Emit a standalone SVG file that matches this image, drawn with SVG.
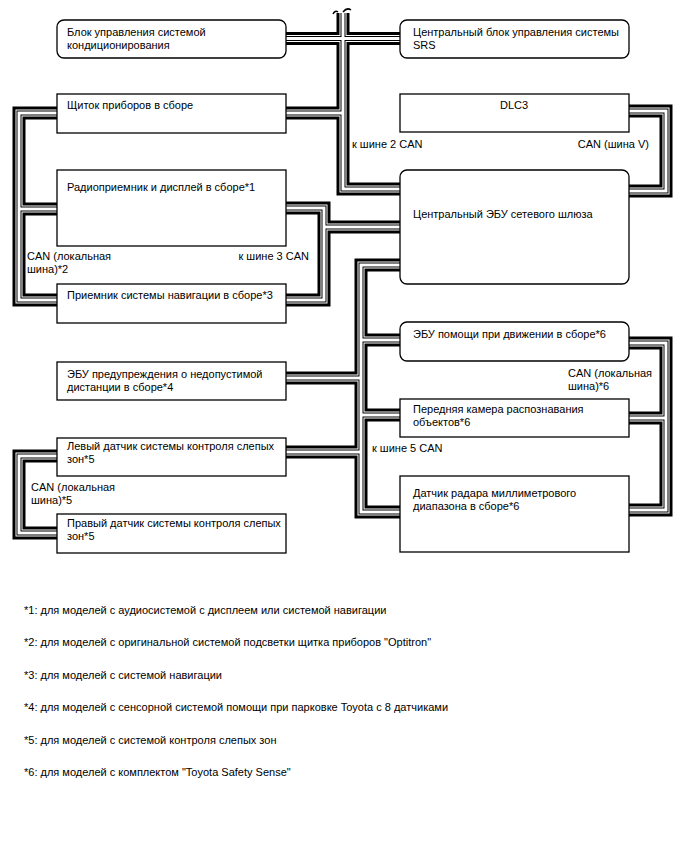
<svg xmlns="http://www.w3.org/2000/svg" width="688" height="852" viewBox="0 0 688 852">
<style>
.box{fill:#fff;stroke:#000;stroke-width:1.3}
text{font-family:"Liberation Sans",Arial,sans-serif;font-size:11px;fill:#000}
.fn{font-size:11px}
.w1{fill:none;stroke:#000;stroke-width:13}
.w2{fill:none;stroke:#fff;stroke-width:7}
.w3{fill:none;stroke:#000;stroke-width:5}
.w4{fill:none;stroke:#fff;stroke-width:3}
</style>
<defs>
<path id="buses" d="M343 13V189H400 M286 38.5H400 M286 113H343 M629 111H666V191H629 M57 113H19V300H57 M57 209H19 M286 208H324V300H286 M324 227H400 M400 265H361V512H400 M361 340H400 M286 378H361 M361 415H400 M286 452H361 M629 343H666V510H629 M629 418H666 M57 456H19V533H57"/>
</defs>
<rect width="688" height="852" fill="#fff"/>
<g id="connectors">
<use href="#buses" class="w1"/>
<use href="#buses" class="w2"/>
<use href="#buses" class="w3"/>
<use href="#buses" class="w4"/>
<path d="M333 14 Q335 10 338 12 M343 12 Q347 7 351 10" fill="none" stroke="#000" stroke-width="1.5"/>
</g>
<g id="n-ac"><rect class="box" x="57" y="20" width="229" height="38" rx="7"/><text x="67" y="36">Блок управления системой</text><text x="67" y="49">кондиционирования</text></g>
<g id="n-srs"><rect class="box" x="400" y="20" width="229" height="38" rx="7"/><text x="413" y="36">Центральный блок управления системы</text><text x="413" y="49">SRS</text></g>
<g id="n-meter"><rect class="box" x="57" y="94" width="229" height="39"/><text x="67" y="109">Щиток приборов в сборе</text></g>
<g id="n-dlc3"><rect class="box" x="400" y="94" width="229" height="38"/><text x="514" y="109" text-anchor="middle">DLC3</text></g>
<g id="n-radio"><rect class="box" x="57" y="170" width="229" height="76"/><text x="67" y="191">Радиоприемник и дисплей в сборе*1</text></g>
<g id="n-gateway"><rect class="box" x="400" y="170" width="229" height="114" rx="7"/><text x="413" y="218">Центральный ЭБУ сетевого шлюза</text></g>
<g id="n-nav"><rect class="box" x="57" y="284" width="229" height="39"/><text x="67" y="299">Приемник системы навигации в сборе*3</text></g>
<g id="n-drive"><rect class="box" x="400" y="322" width="229" height="39" rx="7"/><text x="413" y="338">ЭБУ помощи при движении в сборе*6</text></g>
<g id="n-dist"><rect class="box" x="57" y="362" width="229" height="38"/><text x="67" y="378">ЭБУ предупреждения о недопустимой</text><text x="67" y="391">дистанции в сборе*4</text></g>
<g id="n-camera"><rect class="box" x="400" y="399" width="229" height="38"/><text x="413" y="413">Передняя камера распознавания</text><text x="413" y="426">объектов*6</text></g>
<g id="n-bsl"><rect class="box" x="57" y="438" width="229" height="38"/><text x="67" y="450">Левый датчик системы контроля слепых</text><text x="67" y="463">зон*5</text></g>
<g id="n-radar"><rect class="box" x="400" y="476" width="229" height="76"/><text x="413" y="497">Датчик радара миллиметрового</text><text x="413" y="510">диапазона в сборе*6</text></g>
<g id="n-bsr"><rect class="box" x="57" y="514" width="229" height="39"/><text x="67" y="527">Правый датчик системы контроля слепых</text><text x="67" y="540">зон*5</text></g>
<g id="labels">
<text x="352" y="148">к шине 2 CAN</text>
<text x="649" y="148" text-anchor="end">CAN (шина V)</text>
<text x="27" y="260">CAN (локальная</text>
<text x="27" y="273">шина)*2</text>
<text x="309" y="260" text-anchor="end">к шине 3 CAN</text>
<text x="568" y="377">CAN (локальная</text>
<text x="568" y="390">шина)*6</text>
<text x="372" y="452">к шине 5 CAN</text>
<text x="31" y="491">CAN (локальная</text>
<text x="31" y="504">шина)*5</text>
</g>
<g id="footnotes">
<text class="fn" x="24" y="614">*1: для моделей с аудиосистемой с дисплеем или системой навигации</text>
<text class="fn" x="24" y="646">*2: для моделей с оригинальной системой подсветки щитка приборов "Optitron"</text>
<text class="fn" x="24" y="679">*3: для моделей с системой навигации</text>
<text class="fn" x="24" y="711">*4: для моделей с сенсорной системой помощи при парковке Toyota с 8 датчиками</text>
<text class="fn" x="24" y="744">*5: для моделей с системой контроля слепых зон</text>
<text class="fn" x="24" y="776">*6: для моделей с комплектом "Toyota Safety Sense"</text>
</g>
</svg>
